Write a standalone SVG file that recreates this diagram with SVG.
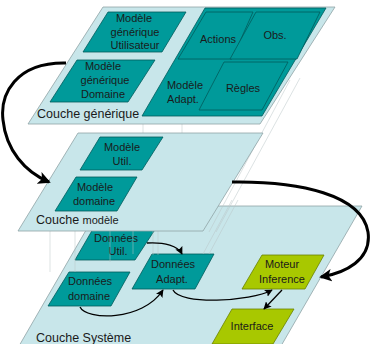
<svg xmlns="http://www.w3.org/2000/svg" width="371" height="344" viewBox="0 0 371 344">
<style>
.layer{fill:#c8e6ea;stroke:#8fa3a6;stroke-width:0.8}
.teal{fill:#009a9a;stroke:#005c5c;stroke-width:0.8}
.lime{fill:#a8c800;stroke:#6a8200;stroke-width:0.8}
text{font-family:"Liberation Sans",Arial,sans-serif;fill:#1a1a1a}
.t{font-size:11px;text-anchor:middle}
.lbl{font-size:12.5px}
.guide{stroke:#b8c4c6;stroke-width:0.5;fill:none}
.big{fill:none;stroke:#000;stroke-width:3}
.thin{fill:none;stroke:#000;stroke-width:1.3}
</style>
<defs>
<marker id="hb" viewBox="0 0 10 10" refX="8.5" refY="5" markerWidth="4.2" markerHeight="4.2" orient="auto" markerUnits="strokeWidth">
<path d="M0,0 L10,5 L0,10 L2.5,5 Z" fill="#000"/>
</marker>
<marker id="ht" viewBox="0 0 10 10" refX="9" refY="5" markerWidth="6" markerHeight="6" orient="auto" markerUnits="strokeWidth">
<path d="M0,0 L10,5 L0,10 L2,5 Z" fill="#000"/>
</marker>
</defs>

<g id="couche-systeme">
<polygon class="layer" points="100,206 362,206 270,365 8,365"/>
<text class="lbl" x="36" y="342">Couche Système</text>
</g>
<g id="donnees-util">
<polygon class="teal" points="97,222 160,222 135,260 75,260"/>
<text class="t" x="116" y="242">Données</text>
<text class="t" x="118" y="255">Util.</text>
</g>
<g id="donnees-domaine">
<polygon class="teal" points="69,272 130,272 111,306 48,306"/>
<text class="t" x="90" y="285">Données</text>
<text class="t" x="89" y="300">domaine</text>
</g>
<g id="donnees-adapt">
<polygon class="teal" points="152,254 214,254 195,289 132,289"/>
<text class="t" x="173" y="268">Données</text>
<text class="t" x="172" y="283">Adapt.</text>
</g>
<g id="moteur-inference">
<polygon class="lime" points="262,255 324,255 305,289 242,289"/>
<text class="t" x="282" y="268">Moteur</text>
<text class="t" x="282" y="283">Inference</text>
</g>
<g id="interface">
<polygon class="lime" points="232,309 294,309 273,344 212,344"/>
<text class="t" x="252" y="330">Interface</text>
</g>

<g id="guides">
<line class="guide" x1="50" y1="226" x2="50" y2="272"/>
<line class="guide" x1="75" y1="226" x2="75" y2="272"/>
<line class="guide" x1="110" y1="226" x2="110" y2="262"/>
<line class="guide" x1="133" y1="226" x2="133" y2="254"/>
<line class="guide" x1="153" y1="226" x2="153" y2="255"/>
<line class="guide" x1="158" y1="226" x2="158" y2="255"/>
<line class="guide" x1="232" y1="200" x2="203" y2="254"/>
<line class="guide" x1="238" y1="200" x2="209" y2="254"/>
<line class="guide" x1="300" y1="78" x2="216" y2="232"/>
<line class="guide" x1="290" y1="80" x2="209" y2="232"/>
<line class="guide" x1="143" y1="122" x2="143" y2="134"/>
<line class="guide" x1="182" y1="122" x2="182" y2="134"/>
</g>

<g id="couche-modele">
<polygon class="layer" points="78,133 263,133 203,231 18,231"/>
<text class="lbl" x="36" y="224">Couche <tspan font-size="11px">modèle</tspan></text>
</g>
<g id="modele-util">
<polygon class="teal" points="100,137 163,137 142,170 80,170"/>
<text class="t" x="122" y="151">Modèle</text>
<text class="t" x="122" y="165">Util.</text>
</g>
<g id="modele-domaine">
<polygon class="teal" points="76,177 137,177 117,211 55,211"/>
<text class="t" x="95" y="191">Modèle</text>
<text class="t" x="94" y="205">domaine</text>
</g>

<g id="couche-generique">
<polygon class="layer" points="103,7 335,7 260,124 28,124"/>
<text class="lbl" x="37" y="118">Couche générique</text>
</g>
<g id="modele-generique-utilisateur">
<polygon class="teal" points="108,12 186,12 162,52 83,52"/>
<text class="t" x="134" y="22">Modèle</text>
<text class="t" x="135" y="36">générique</text>
<text class="t" x="135" y="49">Utilisateur</text>
</g>
<g id="modele-generique-domaine">
<polygon class="teal" points="77,60 155,60 128,102 50,102"/>
<text class="t" x="103" y="70">Modèle</text>
<text class="t" x="105" y="84">générique</text>
<text class="t" x="103" y="98">Domaine</text>
</g>
<g id="modele-adapt">
<polygon class="teal" points="205,8 326,8 262,116 142,116"/>
<text class="t" x="185" y="89">Modèle</text>
<text class="t" x="183" y="103">Adapt.</text>
</g>
<g id="actions">
<polygon class="teal" points="206,12 253,12 232,59 178,59"/>
<text class="t" x="218" y="43">Actions</text>
</g>
<g id="obs">
<polygon class="teal" points="256,12 320,12 297,59 230,59"/>
<text class="t" x="275" y="39">Obs.</text>
</g>
<g id="regles">
<polygon class="teal" points="224,62 288,62 262,110 199,110"/>
<text class="t" x="243" y="92">Règles</text>
</g>

<g id="connectors">
<path class="big" marker-end="url(#hb)" d="M66,63 C 15,62 0,95 3,120 C 6,150 25,172 49,182"/>
<path class="big" marker-end="url(#hb)" d="M232,182 C 300,181 362,195 368,232 C 372,260 345,273 321,277"/>
<path class="thin" marker-end="url(#ht)" d="M147,243 C 165,242 178,246 182,254"/>
<path class="thin" marker-end="url(#ht)" d="M80,307 C 86,320 142,322 163,290"/>
<path class="thin" marker-end="url(#ht)" d="M173,290 C 180,305 250,302 272,290"/>
<path class="thin" marker-end="url(#ht)" d="M282,290 L264,309"/>
</g>
</svg>
